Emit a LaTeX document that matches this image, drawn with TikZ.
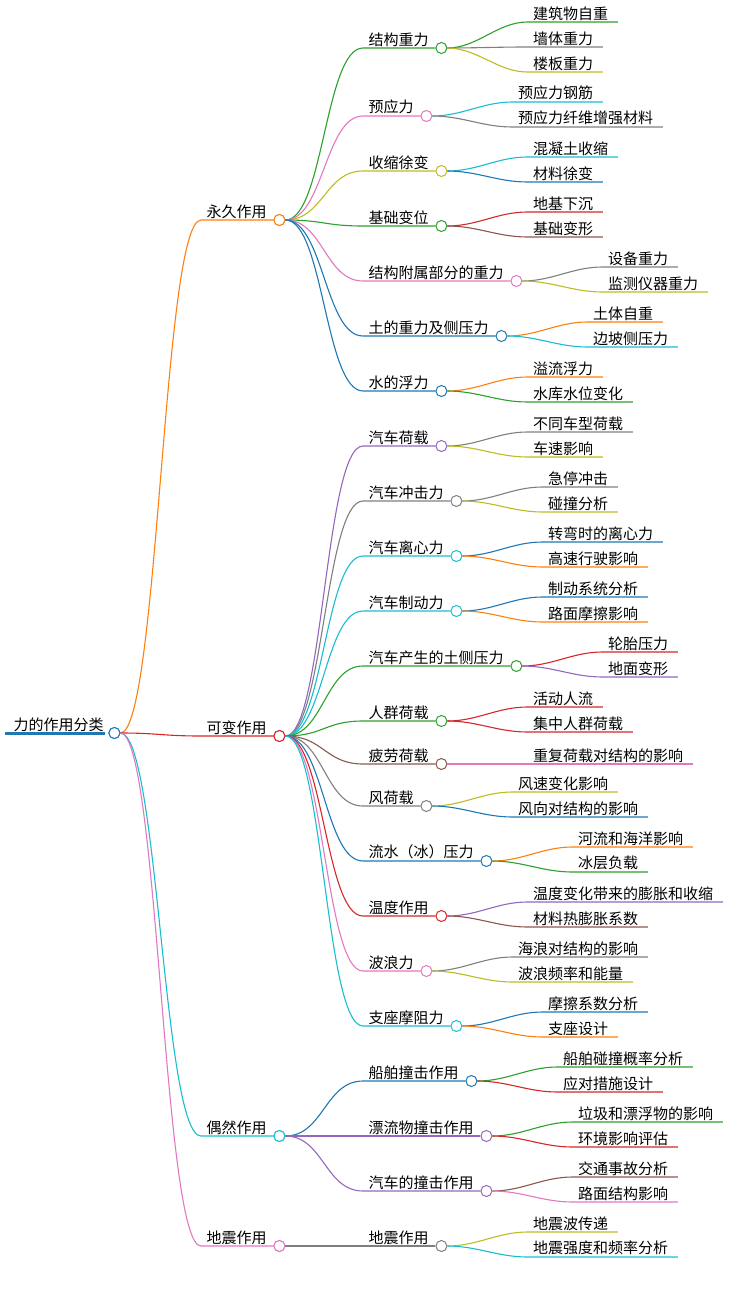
\documentclass[tikz,border=0pt]{standalone}
\usepackage{fontspec}
\newfontfamily\cjk{Noto Sans CJK SC}
\usetikzlibrary{calc,positioning}
\definecolor{cblue}{HTML}{1F77B4}
\definecolor{corange}{HTML}{FF7F0E}
\definecolor{cgreen}{HTML}{2CA02C}
\definecolor{cred}{HTML}{D62728}
\definecolor{cpurple}{HTML}{9467BD}
\definecolor{cbrown}{HTML}{8C564B}
\definecolor{cpink}{HTML}{E377C2}
\definecolor{cgray}{HTML}{7F7F7F}
\definecolor{colive}{HTML}{BCBD22}
\definecolor{ccyan}{HTML}{17BECF}
\tikzset{
  lbl/.style={font=\cjk\fontsize{15}{17}\selectfont, inner sep=1.5pt, anchor=south west},
  dot/.style={circle, draw=#1, fill=white, line width=1pt, inner sep=0pt, minimum size=11pt, anchor=west},
  edge/.style={draw=#1, line width=1.1pt},
}
% mid-level branch: name, parent, y, colour, text, text x
\newcommand{\branch}[6]{%
  \node[lbl] (#1-t) at (#6,#3) {#5};
  \draw[edge=#4] (#2.east) .. controls +(38,0) and +(-38,0) .. ($(#1-t.south west)+(-4,0)$) -- ($(#1-t.south east)+(5,0)$);
  \node[dot=#4] (#1) at ($(#1-t.south east)+(5,0)$) {};
}
% leaf: name, parent, y, colour, text
\newcommand{\leaf}[5]{%
  \path (#2.center) ++(90,0) coordinate (#1-x);
  \node[lbl] (#1) at (#1-x |- 0,#3) {#5};
  \draw[edge=#4] (#2.east) .. controls +(30,0) and +(-30,0) .. ($(#1.south west)+(-4,0)$) -- ($(#1.south east)+(8,0)$);
}
\begin{document}
\begin{tikzpicture}[x=1pt,y=-1pt]
\useasboundingbox (0,0) rectangle (736,1297);
% root
\node[lbl] (root-t) at (12,733) {力的作用分类};
\draw[cblue, line width=3pt] (5,733) -- (root-t.south east);
\node[dot=cblue] (root) at ($(root-t.south east)+(3,0)$) {};
% first level
\branch{pa}{root}{220}{corange}{永久作用}{205}
\branch{va}{root}{736}{cred}{可变作用}{205}
\branch{aa}{root}{1136}{ccyan}{偶然作用}{205}
\branch{ea}{root}{1246}{cpink}{地震作用}{205}
% permanent
\branch{p1}{pa}{48}{cgreen}{结构重力}{367}
\leaf{p1a}{p1}{22}{cgreen}{建筑物自重}
\leaf{p1b}{p1}{47}{cgray}{墙体重力}
\leaf{p1c}{p1}{72}{colive}{楼板重力}
\branch{p2}{pa}{116}{cpink}{预应力}{367}
\leaf{p2a}{p2}{102}{ccyan}{预应力钢筋}
\leaf{p2b}{p2}{127}{cgray}{预应力纤维增强材料}
\branch{p3}{pa}{171}{colive}{收缩徐变}{367}
\leaf{p3a}{p3}{157}{ccyan}{混凝土收缩}
\leaf{p3b}{p3}{182}{cblue}{材料徐变}
\branch{p4}{pa}{226}{cgreen}{基础变位}{367}
\leaf{p4a}{p4}{212}{cred}{地基下沉}
\leaf{p4b}{p4}{237}{cbrown}{基础变形}
\branch{p5}{pa}{281}{cpink}{结构附属部分的重力}{367}
\leaf{p5a}{p5}{267}{cgray}{设备重力}
\leaf{p5b}{p5}{292}{colive}{监测仪器重力}
\branch{p6}{pa}{336}{cblue}{土的重力及侧压力}{367}
\leaf{p6a}{p6}{322}{corange}{土体自重}
\leaf{p6b}{p6}{347}{ccyan}{边坡侧压力}
\branch{p7}{pa}{391}{cblue}{水的浮力}{367}
\leaf{p7a}{p7}{377}{corange}{溢流浮力}
\leaf{p7b}{p7}{402}{cgreen}{水库水位变化}
% variable
\branch{v1}{va}{446}{cpurple}{汽车荷载}{367}
\leaf{v1a}{v1}{432}{cgray}{不同车型荷载}
\leaf{v1b}{v1}{457}{colive}{车速影响}
\branch{v2}{va}{501}{cgray}{汽车冲击力}{367}
\leaf{v2a}{v2}{487}{cgray}{急停冲击}
\leaf{v2b}{v2}{512}{colive}{碰撞分析}
\branch{v3}{va}{556}{ccyan}{汽车离心力}{367}
\leaf{v3a}{v3}{542}{cblue}{转弯时的离心力}
\leaf{v3b}{v3}{567}{corange}{高速行驶影响}
\branch{v4}{va}{611}{ccyan}{汽车制动力}{367}
\leaf{v4a}{v4}{597}{cblue}{制动系统分析}
\leaf{v4b}{v4}{622}{corange}{路面摩擦影响}
\branch{v5}{va}{666}{cgreen}{汽车产生的土侧压力}{367}
\leaf{v5a}{v5}{652}{cred}{轮胎压力}
\leaf{v5b}{v5}{677}{cpurple}{地面变形}
\branch{v6}{va}{721}{cgreen}{人群荷载}{367}
\leaf{v6a}{v6}{707}{cred}{活动人流}
\leaf{v6b}{v6}{732}{cred}{集中人群荷载}
\branch{v7}{va}{764}{cbrown}{疲劳荷载}{367}
\leaf{v7a}{v7}{764}{cpink}{重复荷载对结构的影响}
\branch{v8}{va}{806}{cgray}{风荷载}{367}
\leaf{v8a}{v8}{792}{colive}{风速变化影响}
\leaf{v8b}{v8}{817}{cblue}{风向对结构的影响}
\branch{v9}{va}{861}{cblue}{流水（冰）压力}{367}
\leaf{v9a}{v9}{847}{corange}{河流和海洋影响}
\leaf{v9b}{v9}{872}{cgreen}{冰层负载}
\branch{v10}{va}{916}{cred}{温度作用}{367}
\leaf{v10a}{v10}{902}{cpurple}{温度变化带来的膨胀和收缩}
\leaf{v10b}{v10}{927}{cbrown}{材料热膨胀系数}
\branch{v11}{va}{971}{cpink}{波浪力}{367}
\leaf{v11a}{v11}{957}{cgray}{海浪对结构的影响}
\leaf{v11b}{v11}{982}{colive}{波浪频率和能量}
\branch{v12}{va}{1026}{ccyan}{支座摩阻力}{367}
\leaf{v12a}{v12}{1012}{cblue}{摩擦系数分析}
\leaf{v12b}{v12}{1037}{corange}{支座设计}
% accidental
\branch{a1}{aa}{1081}{cblue}{船舶撞击作用}{367}
\leaf{a1a}{a1}{1067}{cgreen}{船舶碰撞概率分析}
\leaf{a1b}{a1}{1092}{cred}{应对措施设计}
\branch{a2}{aa}{1136}{cpurple}{漂流物撞击作用}{367}
\leaf{a2a}{a2}{1122}{cgreen}{垃圾和漂浮物的影响}
\leaf{a2b}{a2}{1147}{cred}{环境影响评估}
\branch{a3}{aa}{1191}{cpurple}{汽车的撞击作用}{367}
\leaf{a3a}{a3}{1177}{cbrown}{交通事故分析}
\leaf{a3b}{a3}{1202}{cpink}{路面结构影响}
% seismic
\branch{e1}{ea}{1246}{cgray}{地震作用}{367}
\leaf{e1a}{e1}{1232}{colive}{地震波传递}
\leaf{e1b}{e1}{1257}{ccyan}{地震强度和频率分析}
% redraw dots on top
\foreach \n/\c in {root/cblue,pa/corange,va/cred,aa/ccyan,ea/cpink}
  \node[dot=\c, anchor=center] at (\n.center) {};
\end{tikzpicture}
\end{document}
